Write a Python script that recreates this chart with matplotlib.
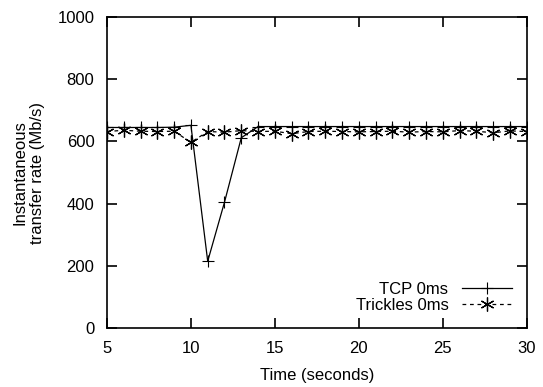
import matplotlib
matplotlib.use("Agg")
import matplotlib.pyplot as plt

plt.rcParams['font.family'] = ['Liberation Sans', 'DejaVu Sans']

seconds = list(range(5, 31))
tcp = [645, 645, 645, 645, 646, 652, 215, 405, 612,
       648, 648, 648, 648, 648, 648, 648, 648, 648, 648, 648, 648, 648, 648, 648, 648, 648]
trickles = [632, 636, 633, 632, 633, 597, 632, 630, 635,
            632, 633, 625, 632, 633, 632, 631, 632, 633, 630, 632, 631, 635, 633, 628, 634, 632]

fig = plt.figure(figsize=(5.43, 3.87), dpi=100)
ax = fig.add_axes([0.197, 0.152, 0.773, 0.804])

ax.plot(seconds, tcp, color='black', lw=0.9, marker='+', ms=8, mew=0.8, label='TCP 0ms')
ax.plot(seconds, trickles, color='black', lw=0.9, ls=(0, (3, 3)), marker=(6, 2, 0), ms=10, mew=0.9,
        label='Trickles 0ms')

ax.set_xlim(5, 30)
ax.set_ylim(0, 1000)
ax.set_xticks(range(5, 31, 5))
ax.set_yticks(range(0, 1001, 200))
ax.tick_params(direction='in', length=7, width=1.2, top=True, right=True, labelsize=12, pad=9)
for s in ax.spines.values():
    s.set_linewidth(1.2)

ax.set_xlabel('Time (seconds)', fontsize=12, labelpad=9)
ax.set_ylabel('Instantaneous\ntransfer rate (Mb/s)', fontsize=12, labelpad=9)

ax.legend(loc='lower right', frameon=False, markerfirst=False, numpoints=1, fontsize=12,
          handlelength=3.0, handletextpad=0.8, labelspacing=0.1, borderaxespad=0.5)

fig.savefig('out.png', dpi=100)
